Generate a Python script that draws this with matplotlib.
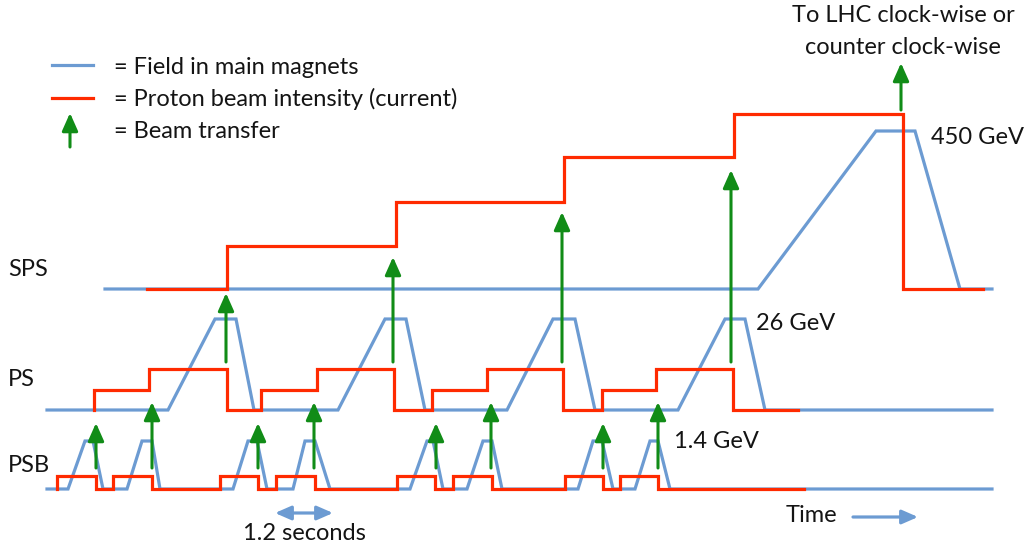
import matplotlib
matplotlib.use("Agg")
import matplotlib.pyplot as plt

BLUE = "#6c9bd2"
RED = "#ff2a00"
GREEN = "#118c17"
TXT = "#141414"

# SPS (canvas pixel units, y grows downwards)
sps_field_x = [105, 758, 876, 915, 960, 992]
sps_field_y = [289, 289, 131, 131, 289, 289]
sps_int_x = [147, 227, 227, 396, 396, 564, 564, 734, 734, 903, 903, 983]
sps_int_y = [289, 289, 246, 246, 202, 202, 157, 157, 114, 114, 289, 289]

# PS
ps_field_x = [47, 168, 215, 236, 254, 338, 385, 406, 425, 507, 553, 575, 595,
              678, 725, 745, 765, 992]
ps_field_y = [410, 410, 319, 319, 410, 410, 319, 319, 410, 410, 319, 319, 410,
              410, 319, 319, 410, 410]
ps_int_x = [94, 94, 149, 149, 227, 227, 261, 261, 317, 317, 394, 394, 432, 432,
            487, 487, 563, 563, 602, 602, 656, 656, 733, 733, 798]
ps_int_y = [410, 390, 390, 369, 369, 410, 410, 390, 390, 369, 369, 410, 410, 390,
            390, 369, 369, 410, 410, 390, 390, 369, 369, 410, 410]

# PSB
psb_field_x = [47, 68, 85, 93, 103, 127, 142, 152, 160,
               233, 248, 257, 267, 293, 305, 315, 330,
               410, 427, 433, 443, 467, 483, 492, 502,
               578, 593, 602, 613, 635, 650, 658, 670, 992]
psb_field_y = [489, 489, 441, 441, 489, 489, 441, 441, 489,
               489, 441, 441, 489, 489, 441, 441, 489,
               489, 441, 441, 489, 489, 441, 441, 489,
               489, 441, 441, 489, 489, 441, 441, 489, 489]
psb_int_x = [57, 57, 96, 96, 113, 113, 152, 152,
             220, 220, 258, 258, 276, 276, 315, 315,
             397, 397, 435, 435, 453, 453, 492, 492,
             565, 565, 603, 603, 620, 620, 658, 658, 804]
psb_int_y = [489, 476, 476, 489, 489, 476, 476, 489,
             489, 476, 476, 489, 489, 476, 476, 489,
             489, 476, 476, 489, 489, 476, 476, 489,
             489, 476, 476, 489, 489, 476, 476, 489, 489]

# beam transfers: x, tail y, tip y
transfer_x = [96, 152, 258, 314, 436, 491, 603, 658, 226, 393, 562, 731, 901]
transfer_tail = [468, 468, 468, 468, 468, 468, 468, 468, 362, 362, 362, 362, 110]
transfer_tip = [423, 402, 423, 402, 423, 402, 423, 402, 293, 257, 212, 170, 63]

plt.rcParams['font.family'] = ['Lato', 'DejaVu Sans']
fig = plt.figure(figsize=(10.26, 5.52), dpi=100)
ax = fig.add_axes([0, 0, 1, 1])
ax.set_xlim(0, 1026)
ax.set_ylim(552, 0)
ax.axis('off')

lw = 2.3
for fx, fy, ix, iy in [(sps_field_x, sps_field_y, sps_int_x, sps_int_y),
                       (ps_field_x, ps_field_y, ps_int_x, ps_int_y),
                       (psb_field_x, psb_field_y, psb_int_x, psb_int_y)]:
    ax.plot(fx, fy, color=BLUE, lw=lw, solid_joinstyle='miter')
    ax.plot(ix, iy, color=RED, lw=lw, solid_joinstyle='miter')

green_head = dict(arrowstyle='-|>,head_length=0.9,head_width=0.4',
                  color=GREEN, lw=2.2, mutation_scale=12, shrinkA=0, shrinkB=0)
for x, t0, t1 in zip(transfer_x, transfer_tail, transfer_tip):
    ax.annotate('', xy=(x, t1), xytext=(x, t0), arrowprops=green_head)

# legend
ax.plot([52, 93], [65, 65], color=BLUE, lw=lw)
ax.plot([52, 93], [98, 98], color=RED, lw=lw)
ax.annotate('', xy=(70, 113), xytext=(70, 147), arrowprops=green_head)
fs = 17
ax.text(114, 67, "= Field in main magnets", fontsize=fs, color=TXT, va='center')
ax.text(114, 99, "= Proton beam intensity (current)", fontsize=fs, color=TXT, va='center')
ax.text(114, 131, "= Beam transfer", fontsize=fs, color=TXT, va='center')

ax.text(8, 270, "SPS", fontsize=fs, color=TXT, va='center')
ax.text(8, 380, "PS", fontsize=fs, color=TXT, va='center')
ax.text(8, 465, "PSB", fontsize=fs, color=TXT, va='center')

ax.text(903, 16, "To LHC clock-wise or", fontsize=fs, color=TXT, ha='center', va='center')
ax.text(903, 47, "counter clock-wise", fontsize=fs, color=TXT, ha='center', va='center')
ax.text(931, 137, "450 GeV", fontsize=fs, color=TXT, va='center')
ax.text(756, 324, "26 GeV", fontsize=fs, color=TXT, va='center')
ax.text(674, 441, "1.4 GeV", fontsize=fs, color=TXT, va='center')

blue_head = dict(arrowstyle='<|-|>,head_length=0.8,head_width=0.35',
                 color=BLUE, lw=2.3, mutation_scale=12, shrinkA=0, shrinkB=0)
ax.annotate('', xy=(333, 513), xytext=(275, 513), arrowprops=blue_head)
ax.text(304, 533, "1.2 seconds", fontsize=fs, color=TXT, ha='center', va='center')

ax.text(786, 515, "Time", fontsize=fs, color=TXT, va='center')
ax.annotate('', xy=(918, 517), xytext=(853, 517),
            arrowprops=dict(blue_head, arrowstyle='-|>,head_length=0.8,head_width=0.35'))

fig.savefig("out.png", dpi=100)
